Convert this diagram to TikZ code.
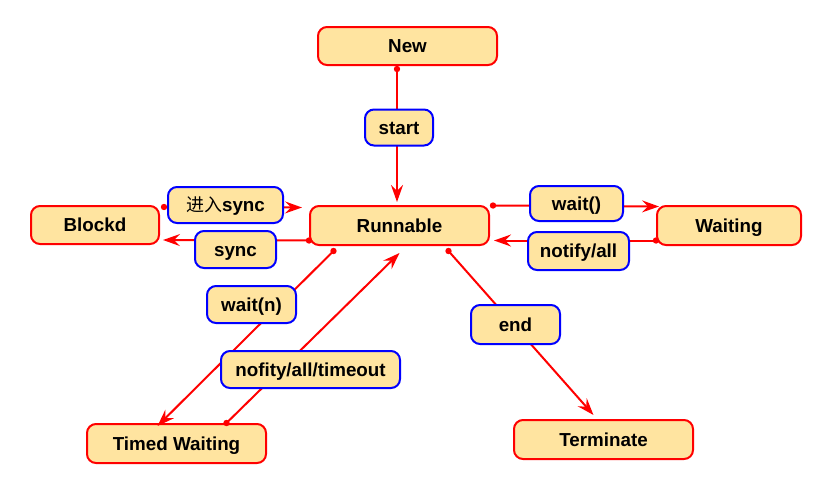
\documentclass[tikz,border=0pt]{standalone}
\usepackage{fontspec}
\setmainfont{Liberation Sans}
\newfontfamily\cjk{Noto Sans CJK SC}
\usetikzlibrary{arrows.meta}
\definecolor{boxfill}{RGB}{255,228,160}
\definecolor{sred}{RGB}{255,0,0}
\definecolor{lblue}{RGB}{0,0,255}
\tikzset{
  state/.style={draw=sred, line width=2pt, fill=boxfill, rounded corners=9pt,
    minimum height=38pt, inner sep=0pt, text height=13.5pt, text depth=0pt,
    font=\fontsize{18.8}{22}\selectfont\bfseries},
  lbl/.style={draw=lblue, line width=2pt, fill=boxfill, rounded corners=9pt,
    minimum height=36pt, inner sep=0pt, text height=13.5pt, text depth=0pt,
    font=\fontsize{18.8}{22}\selectfont\bfseries},
  conn/.style={draw=sred, line width=2pt, -{Stealth[length=17pt,width=12pt,inset=6pt]}},
}
\begin{document}
\begin{tikzpicture}[x=1pt,y=-1pt]
\useasboundingbox (0,0) rectangle (819,496);
% states
\node[state, minimum width=179pt] (New) at (407.5,46) {New};
\node[state, minimum width=179pt, minimum height=39pt] (Run) at (399.5,225.5) {Runnable};
\node[state, minimum width=128pt] (Blk) at (95,225) {Blockd};
\node[state, minimum width=144pt, minimum height=39pt] (Wait) at (729,225.5) {Waiting};
\node[state, minimum width=179pt, minimum height=39pt] (TW) at (176.5,443.5) {Timed Waiting};
\node[state, minimum width=179pt, minimum height=39pt] (Term) at (603.5,439.5) {Terminate};
% endpoints
\coordinate (a1) at ([xshift=-10.5pt,yshift=-3pt]New.south);
\coordinate (a2) at ([xshift=-2.5pt,yshift=3pt]Run.north);
\coordinate (b1) at ([xshift=4pt,yshift=18pt]Blk.east);
\coordinate (b2) at ([xshift=-7pt,yshift=18pt]Run.west);
\coordinate (c1) at ([yshift=-15pt]Run.west);
\coordinate (c2) at ([xshift=3pt,yshift=-15pt]Blk.east);
\coordinate (d1) at ([xshift=3pt,yshift=20pt]Run.east);
\coordinate (d2) at ([xshift=3pt,yshift=19pt]Wait.west);
\coordinate (e1) at ([yshift=-15pt]Wait.west);
\coordinate (e2) at ([xshift=4pt,yshift=-15pt]Run.east);
\coordinate (f1) at ([xshift=-66pt,yshift=-5pt]Run.south);
\coordinate (f2) at ([xshift=-19pt,yshift=-3pt]TW.north);
\coordinate (g1) at ([xshift=50pt,yshift=0pt]TW.north);
\coordinate (g2) at ([xshift=0pt,yshift=-7pt]Run.south);
\coordinate (h1) at ([xshift=49pt,yshift=-5pt]Run.south);
\coordinate (h2) at ([xshift=-10pt,yshift=4pt]Term.north);
% connectors
\draw[conn] (a1) -- (a2);
\draw[conn] (b1) -- (b2);
\draw[conn] (c1) -- (c2);
\draw[conn] (d1) -- (d2);
\draw[conn] (e1) -- (e2);
\draw[conn] (f1) -- (f2);
\draw[conn] (g1) -- (g2);
\draw[conn] (h1) -- (h2);
\foreach \p in {a1,b1,c1,d1,e1,f1,g1,h1} \fill[sred] (\p) circle (3.2pt);
% labels
\node[lbl, minimum width=68pt] (lstart) at (399,127.5) {start};
\node[lbl, minimum width=115pt] (lenter) at (225.5,205) {{\cjk\mdseries\fontsize{18}{22}\selectfont 进入}sync};
\node[lbl, minimum width=81pt, minimum height=37pt] (lsync) at (235.5,249.5) {sync};
\node[lbl, minimum width=93pt, minimum height=35pt] (lwait) at (576.5,203.5) {wait()};
\node[lbl, minimum width=101pt, minimum height=38pt] (lnotify) at (578.5,251) {notify/all};
\node[lbl, minimum width=89pt, minimum height=37pt] (lwaitn) at (251.5,304.5) {wait(n)};
\node[lbl, minimum width=179pt, minimum height=37pt] (lnofity) at (310.5,369.5) {nofity/all/timeout};
\node[lbl, minimum width=89pt, minimum height=39pt] (lend) at (515.5,324.5) {end};
\end{tikzpicture}
\end{document}
